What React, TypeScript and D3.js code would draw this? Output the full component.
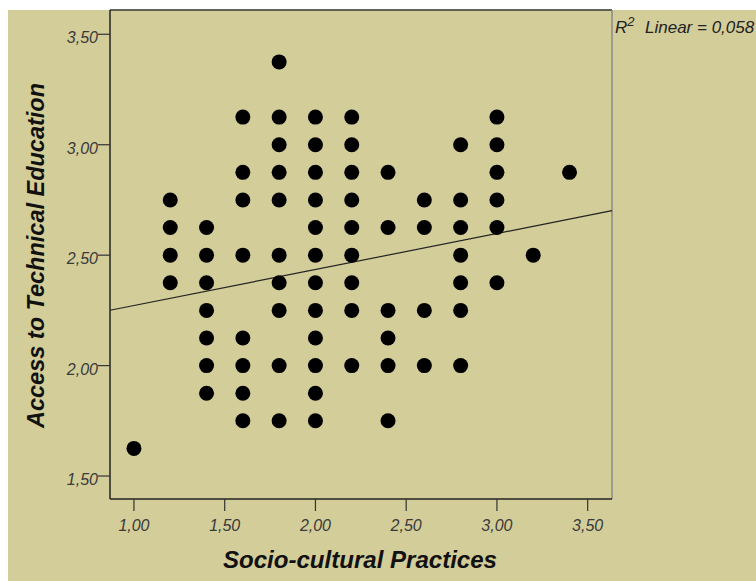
import React from "react";
import * as d3 from "d3";

// Scatter data: each column's x value and the y values present
const xCols = [1.0, 1.2, 1.4, 1.6, 1.8, 2.0, 2.2, 2.4, 2.6, 2.8, 3.0, 3.2, 3.4];
const yByCol = [
  [1.625],
  [2.75, 2.625, 2.5, 2.375],
  [2.625, 2.5, 2.375, 2.25, 2.125, 2.0, 1.875],
  [3.125, 2.875, 2.75, 2.5, 2.125, 2.0, 1.875, 1.75],
  [3.375, 3.125, 3.0, 2.875, 2.75, 2.5, 2.375, 2.25, 2.0, 1.75],
  [3.125, 3.0, 2.875, 2.75, 2.625, 2.5, 2.375, 2.25, 2.125, 2.0, 1.875, 1.75],
  [3.125, 3.0, 2.875, 2.75, 2.625, 2.5, 2.375, 2.25, 2.0],
  [2.875, 2.625, 2.25, 2.125, 2.0, 1.75],
  [2.75, 2.625, 2.25, 2.0],
  [3.0, 2.75, 2.625, 2.5, 2.375, 2.25, 2.0],
  [3.125, 3.0, 2.875, 2.75, 2.625, 2.375],
  [2.5],
  [2.875],
];
const xTicks = [1.0, 1.5, 2.0, 2.5, 3.0, 3.5];
const yTicks = [1.5, 2.0, 2.5, 3.0, 3.5];
const regIntercept = 2.109;
const regSlope = 0.163;
const r2Label = "0,058";
const xTitle = "Socio-cultural Practices";
const yTitle = "Access to Technical Education";

const W = 756;
const H = 581;
const BG = "#d3cd99";
const FONT = "'Liberation Sans', Arial, sans-serif";

export default function App() {
  const left = 110, right = 612, top = 10, bottom = 499;
  const x = d3.scaleLinear().domain([0.868, 3.634]).range([left, right]);
  const y = d3.scaleLinear().domain([1.396, 3.61]).range([bottom, top]);
  const fmt = (v: number) => d3.format(".2f")(v).replace(".", ",");
  const points = xCols.flatMap((xv, i) => yByCol[i].map((yv) => [xv, yv]));
  const [x0, x1] = x.domain();
  const line = d3.line<number>().x((v) => x(v)).y((v) => y(regIntercept + regSlope * v));

  return (
    <svg width={W} height={H} style={{ position: "absolute", left: 0, top: 0 }}>
      <rect x={8} y={10} width={W - 8} height={H - 10} fill={BG} />
      <rect x={left} y={top} width={right - left} height={bottom - top} fill={BG} />
      {/* frame */}
      <line x1={left} x2={right} y1={top} y2={top} stroke="#333" strokeWidth={1.5} />
      <line x1={right} x2={right} y1={top} y2={bottom} stroke="#888" strokeWidth={1.5} />
      <line x1={left} x2={right} y1={bottom} y2={bottom} stroke="#222" strokeWidth={1.5} />
      <line x1={left} x2={left} y1={top} y2={bottom} stroke="#222" strokeWidth={1.5} />
      {/* regression line */}
      <path d={line([x0, x1]) || ""} stroke="#222" strokeWidth={1.2} fill="none" />
      {/* points */}
      {points.map(([xv, yv], i) => (
        <circle key={i} cx={x(xv)} cy={y(yv)} r={7.5} fill="#000" />
      ))}
      {/* x axis */}
      {xTicks.map((t) => (
        <g key={"x" + t}>
          <line x1={x(t)} x2={x(t)} y1={bottom} y2={bottom + 12} stroke="#333" strokeWidth={1.2} />
          <text x={x(t)} y={531} textAnchor="middle" fontFamily={FONT} fontStyle="italic" fontSize={16} fill="#3a3a3a">
            {fmt(t)}
          </text>
        </g>
      ))}
      {/* y axis */}
      {yTicks.map((t) => (
        <g key={"y" + t}>
          <line x1={left - 12} x2={left} y1={y(t)} y2={y(t)} stroke="#333" strokeWidth={1.2} />
          <text x={left - 12} y={y(t) + 9} textAnchor="end" fontFamily={FONT} fontStyle="italic" fontSize={16} fill="#3a3a3a">
            {fmt(t)}
          </text>
        </g>
      ))}
      <text x={360} y={568} textAnchor="middle" fontFamily={FONT} fontStyle="italic" fontWeight="bold" fontSize={23} textLength={274} lengthAdjust="spacingAndGlyphs" fill="#111">
        {xTitle}
      </text>
      <text transform={`translate(44,255.5) rotate(-90)`} textAnchor="middle" fontFamily={FONT} fontStyle="italic" fontWeight="bold" fontSize={23} textLength={345} lengthAdjust="spacingAndGlyphs" fill="#111">
        {yTitle}
      </text>
      <text x={615} y={33} fontFamily={FONT} fontStyle="italic" fontSize={17} fill="#222">
        R
        <tspan dy={-7} fontSize={13}>2</tspan>
        <tspan x={645} dy={7}>{"Linear = " + r2Label}</tspan>
      </text>
    </svg>
  );
}
